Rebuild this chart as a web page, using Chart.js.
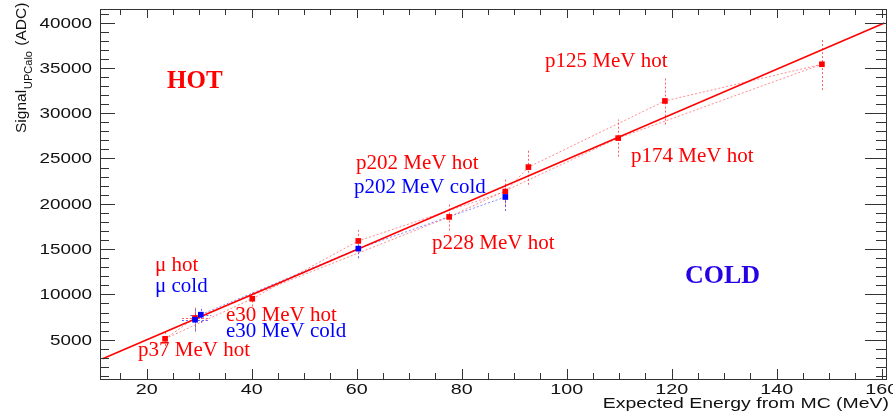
<!DOCTYPE html>
<html>
<head>
<meta charset="utf-8">
<script src="https://cdn.jsdelivr.net/npm/chart.js@4"></script>
<style>
  html, body { margin: 0; padding: 0; background: #fff; }
  #wrap { width: 893px; height: 416px; }
</style>
</head>
<body>
<div id="wrap"><canvas id="upcalo" width="893" height="416"></canvas></div>
<script>
// measured points (hot = red, cold = blue)
const hotX    = [23.5, 29.2, 40.1, 60.3, 77.6, 88.3, 92.7, 109.8, 118.7, 148.6];
const hotY    = [5100, 7400, 9520, 15900, 18550, 21350, 24050, 27250, 31350, 35400];
const hotErrY = [800, 1300, 860, 1200, 1500, 1550, 1950, 2050, 2600, 2850];
const hotErrX = [0, 2.5, 0, 0, 0, 0, 0, 0, 0, 0];

const coldX    = [29.2, 30.3, 60.3, 88.3];
const coldY    = [7200, 7760, 15050, 20750];
const coldErrY = [1300, 900, 1060, 1550];
const coldErrX = [2.5, 2, 0, 0];

// dotted connecting paths, as indices into the hot / cold arrays
const hotUpperPath = [0, 2, 3, 5, 6, 8, 9];
const hotLowerPath = [0, 1, 4, 7, 9];
const coldPath = [0, 1, 2, 3];

// linear fit (solid red)
const fitX = [11.6, 160.5];
const fitY = [2890, 39960];

// axes
const xTicks = [20, 40, 60, 80, 100, 120, 140, 160];
const yTicks = [5000, 10000, 15000, 20000, 25000, 30000, 35000, 40000];
const xRange = [11.1, 161];
const yRange = [660, 41500];

const RED = "rgb(255,0,0)";
const BLUE = "rgb(0,0,255)";
const INK = "#111";

// text annotations (pixel anchor = left, baseline)
const notes = [
  { text: "HOT", x: 167, y: 88, color: RED, font: "bold 25px 'Liberation Serif'" },
  { text: "COLD", x: 685, y: 283, color: "rgb(40,0,230)", font: "bold 26px 'Liberation Serif'" },
  { text: "p125 MeV hot", x: 545, y: 67, color: RED },
  { text: "p174 MeV hot", x: 631, y: 162, color: RED },
  { text: "p202 MeV hot", x: 356, y: 169, color: RED },
  { text: "p202 MeV cold", x: 354, y: 193, color: BLUE },
  { text: "p228 MeV hot", x: 432, y: 249, color: RED },
  { text: "\u03bc hot", x: 155, y: 271, color: RED },
  { text: "\u03bc cold", x: 155, y: 292, color: BLUE },
  { text: "e30 MeV hot", x: 226, y: 321, color: RED },
  { text: "e30 MeV cold", x: 226, y: 337, color: BLUE },
  { text: "p37 MeV hot", x: 138, y: 356, color: RED }
];

function pts(xs, ys) {
  return xs.map((x, i) => ({ x, y: ys[i] }));
}
function pathPts(idx, xs, ys) {
  return idx.map(i => ({ x: xs[i], y: ys[i] }));
}

// text squeezed/stretched horizontally like the ROOT fonts
function drawText(ctx, str, x, y, font, color, align, sx) {
  sx = sx || 1;
  ctx.save();
  ctx.font = font;
  ctx.fillStyle = color;
  ctx.textAlign = "left";
  ctx.textBaseline = "alphabetic";
  const w = ctx.measureText(str).width * sx;
  let left = x;
  if (align === "center") left = x - w / 2;
  if (align === "right") left = x - w;
  ctx.translate(left, y);
  ctx.scale(sx, 1);
  ctx.fillText(str, 0, 0);
  ctx.restore();
}

/* -----------------------------------------------
   error bars, drawn under the markers
------------------------------------------------ */
const errorBars = {
  id: "errorBars",
  beforeDatasetsDraw(chart) {
    const { ctx, scales: { x, y }, chartArea } = chart;
    ctx.save();
    ctx.beginPath();
    ctx.rect(chartArea.left, chartArea.top, chartArea.right - chartArea.left, chartArea.bottom - chartArea.top);
    ctx.clip();
    ctx.lineWidth = 1;
    ctx.setLineDash([2, 2]);
    const sets = [
      [hotX, hotY, hotErrX, hotErrY, "rgba(255,40,40,0.75)"],
      [coldX, coldY, coldErrX, coldErrY, "rgba(40,40,255,0.75)"]
    ];
    sets.forEach(([xs, ys, ex, ey, col]) => {
      ctx.strokeStyle = col;
      xs.forEach((v, i) => {
        const px = Math.round(x.getPixelForValue(v)) + 0.5;
        const py = Math.round(y.getPixelForValue(ys[i])) + 0.5;
        ctx.beginPath();
        ctx.moveTo(px, y.getPixelForValue(ys[i] - ey[i]));
        ctx.lineTo(px, y.getPixelForValue(ys[i] + ey[i]));
        ctx.stroke();
        if (ex[i] > 0) {
          ctx.beginPath();
          ctx.moveTo(x.getPixelForValue(v - ex[i]), py);
          ctx.lineTo(x.getPixelForValue(v + ex[i]), py);
          ctx.stroke();
        }
      });
    });
    ctx.restore();
  }
};

/* -----------------------------------------------
   ROOT style frame, ticks, labels and titles
------------------------------------------------ */
const rootFrame = {
  id: "rootFrame",
  afterDraw(chart) {
    const { ctx, scales: { x, y }, chartArea: a } = chart;
    ctx.save();
    ctx.strokeStyle = "#333";
    ctx.lineWidth = 1;
    ctx.strokeRect(a.left + 0.5, a.top + 0.5, a.right - a.left - 1, a.bottom - a.top);

    ctx.beginPath();
    // x ticks (bottom + top), minor every 5
    for (let v = 15; v <= xRange[1]; v += 5) {
      const px = Math.round(x.getPixelForValue(v)) + 0.5;
      const major = v % 20 === 0;
      ctx.moveTo(px, a.bottom);
      ctx.lineTo(px, a.bottom - (major ? 10 : 6));
      ctx.moveTo(px, a.top);
      ctx.lineTo(px, a.top + (major ? 9 : 6));
    }
    // y ticks (left + right), minor every 1000
    for (let v = 1000; v <= yRange[1]; v += 1000) {
      const py = Math.round(y.getPixelForValue(v)) + 0.5;
      const major = v % 5000 === 0;
      ctx.moveTo(a.left, py);
      ctx.lineTo(a.left + (major ? 15 : 9), py);
      ctx.moveTo(a.right, py);
      ctx.lineTo(a.right - (major ? 22 : 11), py);
    }
    ctx.stroke();
    ctx.restore();

    const tickFont = "14.5px 'Liberation Sans'";
    xTicks.forEach(v => {
      drawText(ctx, String(v), x.getPixelForValue(v), 394, tickFont, INK, "center", 1.36);
    });
    yTicks.forEach(v => {
      drawText(ctx, String(v), 92, y.getPixelForValue(v) + 5, tickFont, INK, "right", 1.3);
    });

    drawText(ctx, "Expected Energy from MC (MeV)", 889, 408, "14.5px 'Liberation Sans'", INK, "right", 1.34);

    // y title with subscript, rotated
    ctx.save();
    ctx.translate(26, 133);
    ctx.rotate(-Math.PI / 2);
    ctx.fillStyle = INK;
    ctx.font = "15.5px 'Liberation Sans'";
    ctx.fillText("Signal", 0, 0);
    const w1 = ctx.measureText("Signal").width;
    ctx.font = "11px 'Liberation Sans'";
    ctx.fillText("UPCalo", w1 + 1, 6);
    const w2 = ctx.measureText("UPCalo").width;
    ctx.font = "15.5px 'Liberation Sans'";
    ctx.fillText(" (ADC)", w1 + w2 + 2, 0);
    ctx.restore();

    notes.forEach(n => {
      drawText(ctx, n.text, n.x, n.y, n.font || "21px 'Liberation Serif'", n.color, "left", 1);
    });
  }
};

const dotted = (data, color) => ({
  type: "line",
  data,
  showLine: true,
  borderColor: color,
  borderWidth: 1,
  borderDash: [2, 2],
  pointRadius: 0,
  tension: 0,
  order: 5
});

new Chart(document.getElementById("upcalo"), {
  type: "scatter",
  data: {
    datasets: [
      {
        label: "hot",
        data: pts(hotX, hotY),
        pointStyle: "rect",
        pointRadius: 4,
        backgroundColor: RED,
        borderColor: RED,
        borderWidth: 0,
        order: 1
      },
      {
        label: "cold",
        data: pts(coldX, coldY),
        pointStyle: "rect",
        pointRadius: 4,
        backgroundColor: BLUE,
        borderColor: BLUE,
        borderWidth: 0,
        order: 0
      },
      {
        type: "line",
        label: "fit",
        data: pts(fitX, fitY),
        borderColor: RED,
        borderWidth: 1.5,
        pointRadius: 0,
        order: 2
      },
      dotted(pathPts(hotUpperPath, hotX, hotY), "rgba(255,80,80,0.65)"),
      dotted(pathPts(hotLowerPath, hotX, hotY), "rgba(255,80,80,0.65)"),
      dotted(pathPts(coldPath, coldX, coldY), "rgba(70,70,255,0.65)")
    ]
  },
  options: {
    responsive: false,
    animation: false,
    layout: { padding: { left: 100, top: 9, right: 6, bottom: 37 } },
    plugins: { legend: { display: false }, tooltip: { enabled: false } },
    scales: {
      x: { type: "linear", min: xRange[0], max: xRange[1], display: false },
      y: { type: "linear", min: yRange[0], max: yRange[1], display: false }
    }
  },
  plugins: [errorBars, rootFrame]
});
</script>
</body>
</html>
